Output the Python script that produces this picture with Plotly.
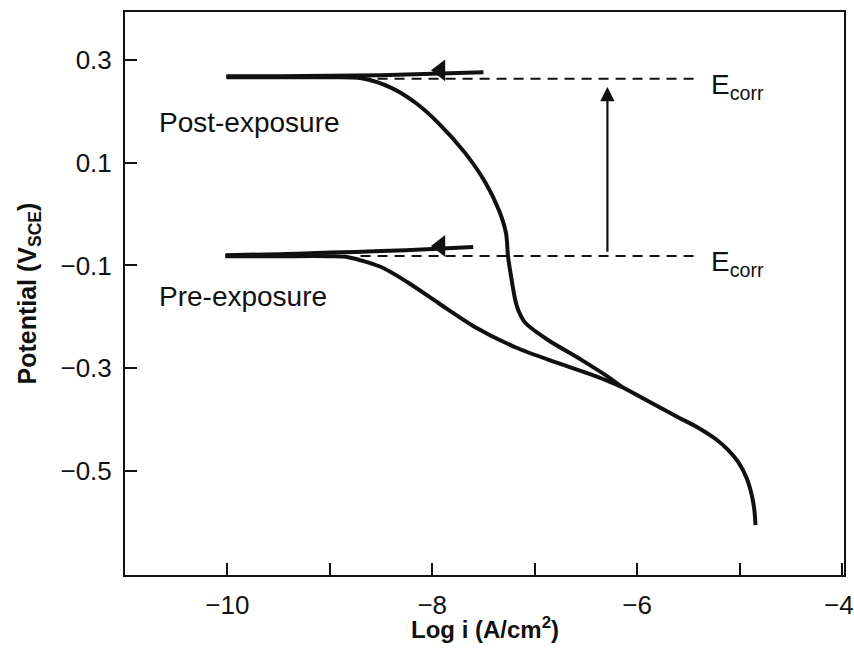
import plotly.graph_objects as go

# ---- data (Log i [A/cm2], Potential [V_SCE]) ----
post_top_x = [-7.50, -8.00, -8.50, -9.00, -9.50, -10.01]
post_top_y = [0.276, 0.273, 0.270, 0.269, 0.268, 0.268]

post_curve_x = [-10.01, -9.50, -9.00, -8.69, -8.40, -8.16, -7.94, -7.68, -7.48, -7.35,
                -7.28, -7.26, -7.23, -7.19, -7.16, -7.09, -6.87, -6.54, -6.28, -6.15]
post_curve_y = [0.266, 0.266, 0.266, 0.264, 0.2455, 0.216, 0.177, 0.119, 0.061, 0.008,
                -0.037, -0.083, -0.122, -0.167, -0.187, -0.212, -0.245, -0.284, -0.317, -0.336]

pre_top_x = [-7.60, -8.00, -8.50, -9.00, -9.50, -10.02]
pre_top_y = [-0.064, -0.068, -0.072, -0.075, -0.078, -0.080]

pre_curve_x = [-10.02, -9.50, -9.00, -8.82, -8.50, -8.23, -7.94, -7.58, -7.19, -6.77, -6.38, -6.15]
pre_curve_y = [-0.082, -0.082, -0.082, -0.084, -0.103, -0.134, -0.173, -0.220, -0.259, -0.290, -0.317, -0.336]

tail_x = [-6.15, -5.89, -5.60, -5.40, -5.23, -5.11, -5.01, -4.93, -4.88, -4.855, -4.844]
tail_y = [-0.336, -0.364, -0.395, -0.416, -0.438, -0.459, -0.483, -0.514, -0.547, -0.576, -0.605]

ecorr_post = 0.263
ecorr_pre = -0.0815
ecorr_x = [-8.70, -5.38]

arrow_x = [-7.92, -7.92]
arrow_y = [0.2795, -0.062]

shift_x = -6.29
shift_tail = -0.076
shift_tip = 0.247

x_tickvals = [-10, -9, -8, -7, -6, -5, -4]
x_ticktext = ["−10", "", "−8", "", "−6", "", ""]   # "−4" drawn separately (edge of page)
x_edge_val = -4
x_edge_text = "−4"
y_tickvals = [0.3, 0.1, -0.1, -0.3, -0.5]
y_ticktext = ["0.3", "0.1", "−0.1", "−0.3", "−0.5"]

FONT = "Arial, Liberation Sans, Helvetica, sans-serif"
BLACK = "#111111"

fig = go.Figure()

# dashed Ecorr lines
for yv in (ecorr_post, ecorr_pre):
    fig.add_trace(go.Scatter(x=ecorr_x, y=[yv, yv], mode="lines",
                             line=dict(color=BLACK, width=2, dash="10px,7px"),
                             showlegend=False, hoverinfo="skip"))

# curves
for xs, ys, w in [(post_top_x, post_top_y, 4), (post_curve_x, post_curve_y, 4),
                  (pre_top_x, pre_top_y, 4), (pre_curve_x, pre_curve_y, 4),
                  (tail_x, tail_y, 4)]:
    fig.add_trace(go.Scatter(x=xs, y=ys, mode="lines",
                             line=dict(color=BLACK, width=w, shape="spline", smoothing=0.8),
                             showlegend=False, hoverinfo="skip"))

# arrowheads on scan lines
fig.add_trace(go.Scatter(x=arrow_x, y=arrow_y, mode="markers",
                         marker=dict(symbol="triangle-left", size=19, color=BLACK),
                         showlegend=False, hoverinfo="skip"))

# vertical Ecorr shift arrow
fig.add_annotation(x=shift_x, y=shift_tip, ax=shift_x, ay=shift_tail,
                   xref="x", yref="y", axref="x", ayref="y",
                   showarrow=True, arrowhead=2, arrowsize=1.3, arrowwidth=2.2,
                   arrowcolor=BLACK, text="")

# text labels
for txt, xv, yv in [("Post-exposure", -10.69, 0.179), ("Pre-exposure", -10.69, -0.161),
                    ("E<sub>corr</sub>", -5.30, 0.2475), ("E<sub>corr</sub>", -5.30, -0.097)]:
    fig.add_annotation(x=xv, y=yv, xref="x", yref="y", text=txt,
                       showarrow=False, xanchor="left", yanchor="middle",
                       font=dict(family=FONT, size=28, color=BLACK))

# last x tick label, nudged so it stays inside the page
fig.add_annotation(x=x_edge_val, y=0, xref="x", yref="paper", yshift=-30, xshift=-3,
                   text=x_edge_text, showarrow=False, xanchor="center", yanchor="middle",
                   font=dict(family=FONT, size=26, color=BLACK))

# axis titles
fig.add_annotation(x=0.5, y=0, xref="paper", yref="paper", yshift=-53,
                   text="<b>Log i (A/cm<sup>2</sup>)</b>", showarrow=False,
                   xanchor="center", yanchor="middle",
                   font=dict(family=FONT, size=24, color=BLACK))
fig.add_annotation(x=0, y=0.5, xref="paper", yref="paper", xshift=-97,
                   text="<b>Potential (V<sub>SCE</sub>)</b>", showarrow=False,
                   textangle=-90, xanchor="center", yanchor="middle",
                   font=dict(family=FONT, size=25, color=BLACK))

fig.update_layout(
    width=854, height=664,
    margin=dict(l=125, r=10, t=12, b=89),
    paper_bgcolor="white", plot_bgcolor="white",
    font=dict(family=FONT, size=26, color=BLACK),
    showlegend=False,
)
fig.update_xaxes(
    range=[-11.0, -3.98], tickvals=x_tickvals, ticktext=x_ticktext,
    ticks="inside", ticklen=12, tickwidth=2, tickcolor=BLACK,
    showline=True, linewidth=2, linecolor=BLACK, mirror=True,
    showgrid=False, zeroline=False, ticklabelstandoff=6, automargin=False,
    tickfont=dict(family=FONT, size=26, color=BLACK),
)
fig.update_yaxes(
    range=[-0.702, 0.393], tickvals=y_tickvals, ticktext=y_ticktext,
    ticks="inside", ticklen=12, tickwidth=2, tickcolor=BLACK,
    showline=True, linewidth=2, linecolor=BLACK, mirror=True,
    showgrid=False, zeroline=False, ticklabelstandoff=6, automargin=False,
    tickfont=dict(family=FONT, size=26, color=BLACK),
)

# remove the default page margin so the 854x664 figure fills the window exactly
fig.write_html("out.html",
               config={"displayModeBar": False},
               post_script="document.body.style.margin='0';document.body.style.overflow='hidden';")
